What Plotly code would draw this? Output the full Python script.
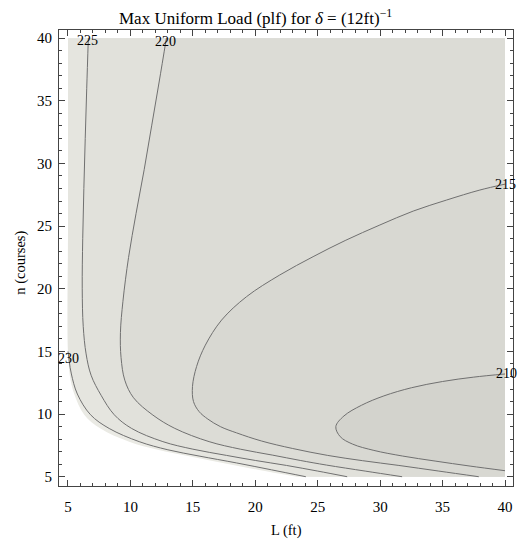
import plotly.graph_objects as go

# ---- data (L in ft, n in courses) ----
levels = [230, 225, 220, 215, 210]

# edge of the defined (shaded) region, top-left to bottom
edge_L = [5.0, 5.0, 5.0, 5.02, 5.14, 5.5, 6.3, 7.6, 9.9, 12.2, 14.6, 17.4, 20.2, 23.3]
edge_n = [40.0, 25.0, 17.0, 15.0, 13.12, 11.6, 9.95, 8.85, 7.8, 7.15, 6.65, 6.1, 5.55, 5.0]

c230_L = [5.0, 5.1, 5.27, 5.75, 6.8, 8.3, 10.7, 13.0, 15.5, 18.5, 21.3, 24.05]
c230_n = [15.0, 14.2, 13.2, 11.6, 9.95, 8.85, 7.8, 7.15, 6.65, 6.1, 5.55, 5.0]

c225_L = [6.63, 6.5, 6.38, 6.27, 6.18, 6.14, 6.22, 6.45, 6.85, 7.65, 8.7, 10.1, 12.6, 15.0,
          17.7, 20.0, 22.5, 25.0, 27.36]
c225_n = [40.0, 36.0, 32.0, 28.0, 24.0, 20.0, 17.0, 14.8, 13.1, 11.5, 9.95, 8.85, 7.8, 7.2,
          6.7, 6.3, 5.9, 5.45, 5.0]

c220_L = [12.88, 12.3, 11.7, 11.1, 10.45, 9.85, 9.4, 9.2, 9.25, 9.55, 10.25, 11.8, 13.55, 16.3,
          18.8, 21.4, 23.6, 25.7, 28.8, 31.76]
c220_n = [40.0, 36.5, 33.0, 29.5, 26.0, 22.5, 19.0, 16.5, 14.5, 12.7, 11.3, 9.92, 8.86, 7.8,
          7.2, 6.72, 6.3, 5.93, 5.45, 5.0]

c215_L = [40.0, 37.99, 35.32, 32.65, 29.98, 27.2, 24.63, 21.96, 19.3, 17.3, 16.0, 15.3, 14.97,
          15.05, 15.5, 16.2, 17.2, 18.5, 20.5, 23.0, 25.8, 28.6, 31.5, 34.7, 37.9]
c215_n = [28.35, 27.88, 27.08, 26.2, 25.09, 23.85, 22.56, 21.1, 19.37, 17.5, 15.5, 13.8, 12.2,
          11.0, 10.2, 9.6, 9.0, 8.5, 7.85, 7.25, 6.7, 6.28, 5.9, 5.45, 5.0]

c210_L = [40.0, 37.5, 35.0, 32.5, 30.3, 28.5, 27.1, 26.45, 26.8, 27.8, 29.5, 31.8, 34.4, 37.2, 40.0]
c210_n = [13.2, 12.95, 12.6, 12.1, 11.45, 10.7, 9.85, 9.0, 8.2, 7.6, 7.1, 6.65, 6.25, 5.85, 5.48]

# contour label positions
lab_text = ["230", "225", "220", "215", "210"]
lab_L = [5.06, 6.54, 12.79, 40.07, 40.1]
lab_n = [14.4, 39.83, 39.7, 28.35, 13.2]

x_ticks = [5, 10, 15, 20, 25, 30, 35, 40]
y_ticks = [5, 10, 15, 20, 25, 30, 35, 40]

band_colors = ["#eaeae4", "#e5e5df", "#e1e1db", "#dcdcd6", "#d8d8d2", "#d3d3cd"]
line_color = "#707070"
FONT = "Liberation Serif"

fig = go.Figure()


def band(curve_L, curve_n, color):
    # invisible right-edge trace, then curve filled toward it
    fig.add_trace(go.Scatter(x=[40.0, 40.0], y=[curve_n[0], curve_n[-1]], mode="lines",
                             line=dict(width=0), hoverinfo="skip", showlegend=False))
    fig.add_trace(go.Scatter(x=curve_L, y=curve_n, mode="lines", fill="tonextx",
                             fillcolor=color, line=dict(width=0, shape="spline", smoothing=1.0),
                             hoverinfo="skip", showlegend=False))


band(edge_L, edge_n, band_colors[0])
band([5.0, 5.0] + c230_L, [40.0, 25.0] + c230_n, band_colors[1])
band(c225_L, c225_n, band_colors[2])
band(c220_L, c220_n, band_colors[3])
band(c215_L, c215_n, band_colors[4])
band(c210_L, c210_n, band_colors[5])

for Ls, ns in [(c230_L, c230_n), (c225_L, c225_n), (c220_L, c220_n), (c215_L, c215_n), (c210_L, c210_n)]:
    fig.add_trace(go.Scatter(x=Ls, y=ns, mode="lines",
                             line=dict(color=line_color, width=1, shape="spline", smoothing=1.0),
                             hoverinfo="skip", showlegend=False))

for t, xl, yl in zip(lab_text, lab_L, lab_n):
    fig.add_annotation(x=xl, y=yl, text=t, showarrow=False,
                       font=dict(family=FONT, size=14, color="black"),
                       xanchor="center", yanchor="middle")

axis_common = dict(
    showgrid=False, zeroline=False, showline=True, linecolor="#444", linewidth=1,
    mirror="allticks", ticks="inside", ticklen=6, tickcolor="#444", tickwidth=1,
    tickfont=dict(family=FONT, size=15, color="black"),
    minor=dict(ticks="inside", ticklen=3, dtick=1, tickcolor="#444", tickwidth=1, showgrid=False),
)

fig.update_xaxes(range=[4.28, 40.64], tickvals=x_ticks, ticklabelstandoff=7, **axis_common)
fig.update_yaxes(range=[4.26, 40.65], tickvals=y_ticks, ticklabelstandoff=3, **axis_common)

fig.add_annotation(xref="paper", yref="paper", x=0.4335, y=1.0285,
                   text="Max Uniform Load (plf) for <i>δ</i> = (12ft)<sup>−1</sup>",
                   showarrow=False, xanchor="center", yanchor="middle",
                   font=dict(family=FONT, size=17, color="black"))
fig.add_annotation(xref="paper", yref="paper", x=0.501, y=-0.0965, text="L (ft)",
                   showarrow=False, xanchor="center", yanchor="middle",
                   font=dict(family=FONT, size=14.5, color="black"))
fig.add_annotation(xref="paper", yref="paper", x=-0.0866, y=0.489, text="n (courses)",
                   showarrow=False, xanchor="center", yanchor="middle", textangle=-90,
                   font=dict(family=FONT, size=14.5, color="black"))

fig.update_layout(width=526, height=542, margin=dict(l=59, r=13, t=30, b=56),
                  paper_bgcolor="white", plot_bgcolor="white")

fig.write_html("out.html")
